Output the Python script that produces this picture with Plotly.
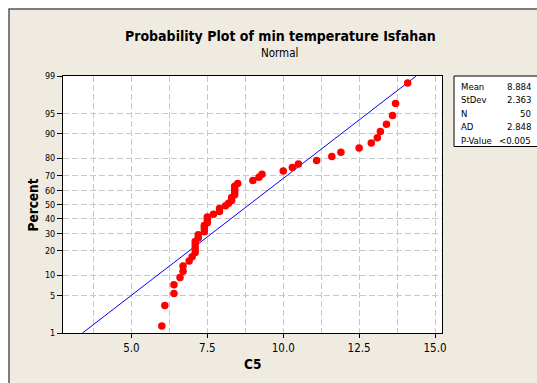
import plotly.graph_objects as go
from statistics import NormalDist

# ---- data ----
temps = [6.0, 6.1, 6.4, 6.4, 6.6, 6.7, 6.7, 6.9, 7.0, 7.1,
         7.1, 7.1, 7.1, 7.2, 7.2, 7.4, 7.4, 7.4, 7.5, 7.5,
         7.5, 7.7, 7.9, 7.9, 8.1, 8.2, 8.3, 8.3, 8.4, 8.4,
         8.4, 8.4, 8.5, 9.0, 9.2, 9.3, 10.0, 10.3, 10.5, 11.1,
         11.6, 11.9, 12.5, 12.9, 13.1, 13.2, 13.4, 13.6, 13.7, 14.1]
MEAN = 8.884
STDEV = 2.363
stat_labels = ["Mean", "StDev", "N", "AD", "P-Value"]
stat_values = ["8.884", "2.363", "50", "2.848", "<0.005"]
pct_ticks = [1, 5, 10, 20, 30, 40, 50, 60, 70, 80, 90, 95, 99]
x_ticks = [5.0, 7.5, 10.0, 12.5, 15.0]

nd = NormalDist()
xs = sorted(temps)
n = len(xs)
zs = [nd.inv_cdf((i + 1 - 0.3) / (n + 0.4)) for i in range(n)]
zlo, zhi = nd.inv_cdf(0.01), nd.inv_cdf(0.99)
line_z = [zlo, zhi]
line_x = [MEAN + STDEV * z for z in line_z]

FONT = "DejaVu Sans Condensed, DejaVu Sans, sans-serif"
W, H = 537, 383
L, R, T, B = 63, 95, 76, 50
PW, PH = W - L - R, H - T - B

def px(x):
    return (x - L) / PW

def py(y):
    return (H - B - y) / PH

fig = go.Figure()
fig.add_trace(go.Scatter(x=line_x, y=line_z, mode="lines",
                         line=dict(color="#0000FF", width=1), hoverinfo="skip"))
fig.add_trace(go.Scatter(x=xs, y=zs, mode="markers",
                         marker=dict(color="#FF0000", size=7.5, line=dict(width=0))))

grid = dict(gridcolor="#C8C8C8", gridwidth=1, griddash="6px,3px")
fig.update_layout(
    width=W, height=H, margin=dict(l=L, r=R, t=T, b=B),
    paper_bgcolor="white", plot_bgcolor="white", showlegend=False,
    font=dict(family=FONT, color="#000000"),
    xaxis=dict(range=[2.745, 15.23], tickvals=x_ticks,
               ticktext=[f"{v:.1f}" for v in x_ticks],
               showgrid=True, **grid,
               minor=dict(dtick=1.25, tick0=0, showgrid=True, **grid, ticks=""),
               ticks="outside", ticklen=4, tickcolor="#000",
               showline=True, linecolor="#000", linewidth=1, mirror=True,
               zeroline=False, tickfont=dict(size=11.5, family=FONT)),
    yaxis=dict(range=[zlo, zhi], tickvals=[nd.inv_cdf(p / 100) for p in pct_ticks],
               ticktext=[str(p) for p in pct_ticks],
               showgrid=True, **grid,
               ticks="outside", ticklen=5, tickcolor="#000",
               showline=True, linecolor="#000", linewidth=1, mirror=True,
               zeroline=False, tickfont=dict(size=9, family=FONT)),
)

shapes = [
    dict(type="rect", xref="paper", yref="paper", layer="below",
         x0=px(9), x1=px(W + 20), y0=py(H + 20), y1=py(9),
         fillcolor="#EFEBE1", line=dict(color="#555555", width=1.5)),
    dict(type="rect", xref="paper", yref="paper", layer="below",
         x0=0, x1=1, y0=0, y1=1, fillcolor="white", line=dict(width=0)),
    dict(type="rect", xref="paper", yref="paper",
         x0=px(454), x1=px(W + 10), y0=py(146.5), y1=py(76),
         fillcolor="white", line=dict(color="#000", width=1)),
]
fig.update_layout(shapes=shapes)

ann = [
    dict(text="<b>Probability Plot of min temperature Isfahan</b>", x=px(280), y=py(36),
         font=dict(size=14, family=FONT)),
    dict(text="Normal", x=px(279), y=py(52.5), font=dict(size=11.5, family=FONT)),
    dict(text="<b>C5</b>", x=px(252), y=py(364), font=dict(size=13.5, family=FONT)),
    dict(text="<b>Percent</b>", x=px(32.5), y=py(205), textangle=-90,
         font=dict(size=13.5, family=FONT)),
]
rows_y = [86, 99.5, 113, 126.5, 140]
for lab, val, yy in zip(stat_labels, stat_values, rows_y):
    ann.append(dict(text=lab, x=px(459), y=py(yy), xanchor="left",
                    font=dict(size=9.5, family=FONT)))
    ann.append(dict(text=val, x=px(533), y=py(yy), xanchor="right",
                    font=dict(size=9.5, family=FONT)))
for a in ann:
    a.setdefault("xanchor", "center")
    a.update(xref="paper", yref="paper", yanchor="middle", showarrow=False)
fig.update_layout(annotations=ann)

fig.write_html("out.html")
